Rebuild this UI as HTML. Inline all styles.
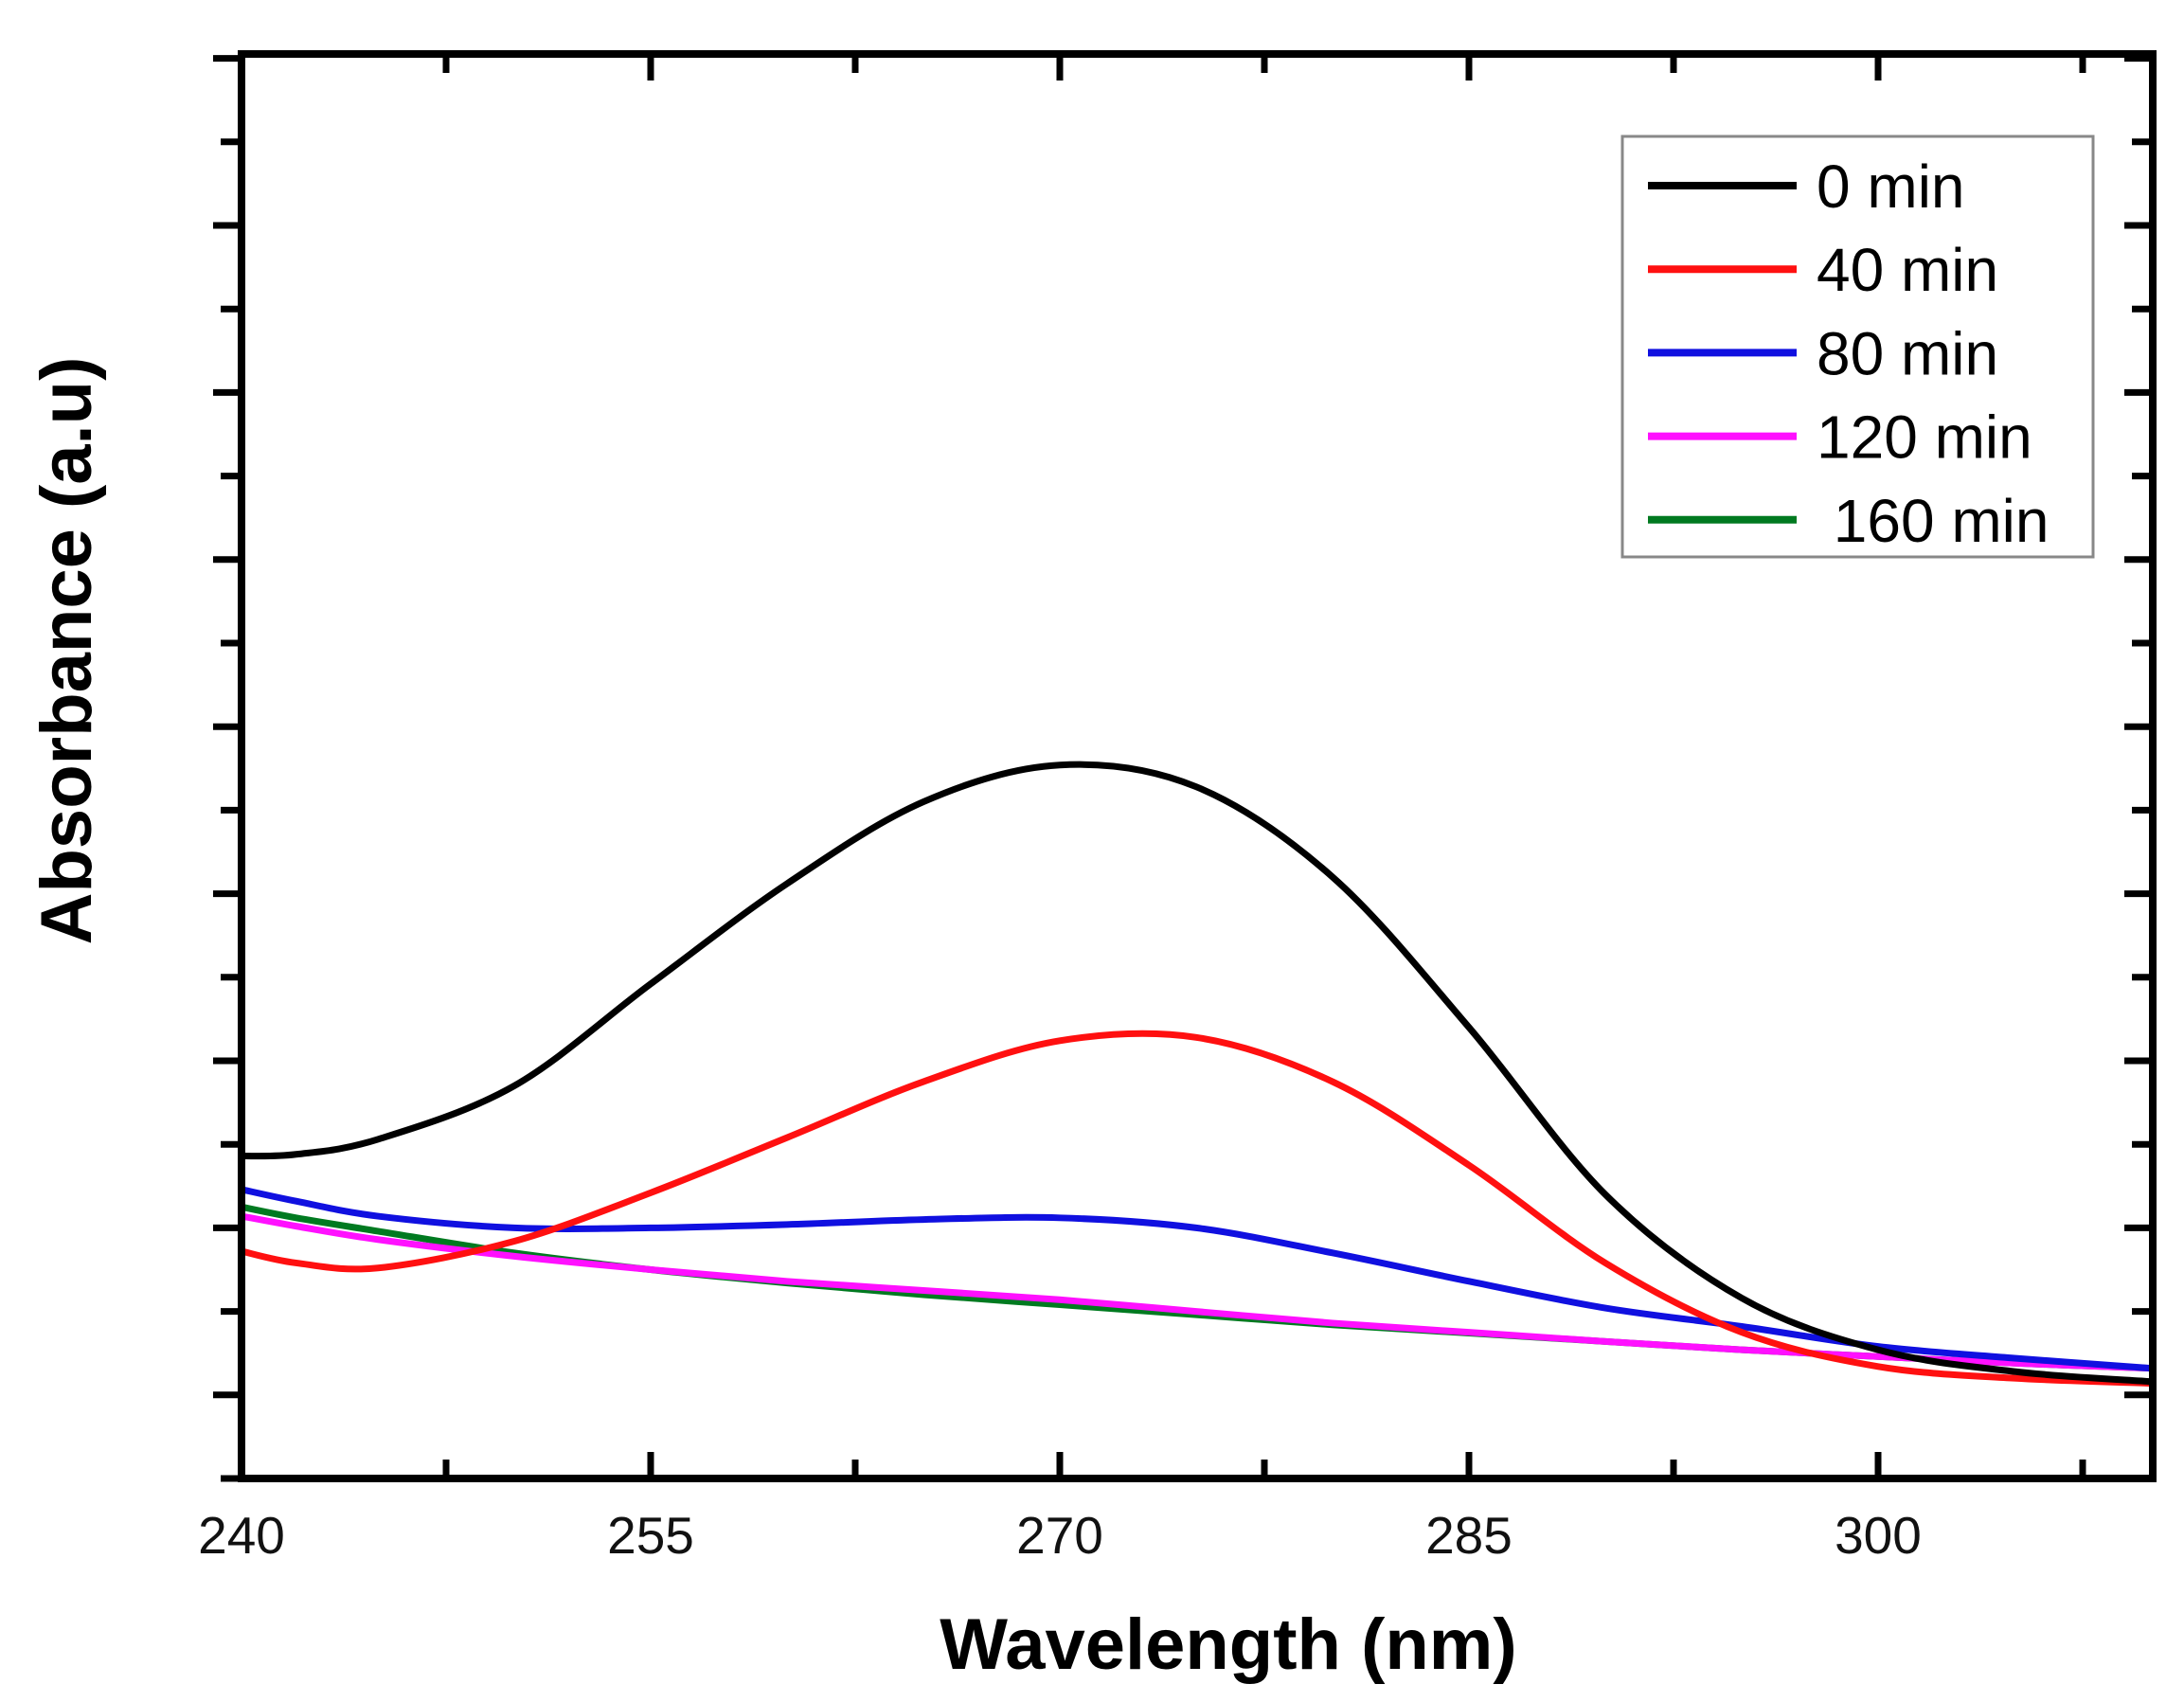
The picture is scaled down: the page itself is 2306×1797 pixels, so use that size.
<!DOCTYPE html>
<html><head><meta charset="utf-8"><style>
html,body{margin:0;padding:0;background:#fff;}
svg{display:block;}
</style></head><body>
<svg id="chart" width="2306" height="1797" viewBox="0 0 2306 1797" xmlns="http://www.w3.org/2000/svg" font-family="Liberation Sans, Arial, sans-serif">
</svg>
<script>
const wavelengths = [240,242,245,250,255,260,265,270,275,280,285,290,295,300,305,310];
const s0   = [1.43,1.44,1.53,1.85,2.46,3.06,3.55,3.77,3.64,3.1,2.2,1.2,0.58,0.27,0.14,0.08];
const s40  = [0.86,0.79,0.76,0.92,1.21,1.54,1.875,2.12,2.14,1.875,1.375,0.79,0.375,0.17,0.10,0.07];
const s80  = [1.23,1.16,1.07,1.0,1.0,1.02,1.05,1.06,1.0,0.85,0.68,0.52,0.41,0.29,0.22,0.16];
const s120 = [1.07,1.01,0.93,0.83,0.75,0.68,0.625,0.57,0.5,0.43,0.375,0.32,0.27,0.23,0.19,0.16];
const s160 = [1.125,1.06,0.98,0.85,0.75,0.67,0.60,0.54,0.48,0.42,0.37,0.32,0.27,0.23,0.19,0.16];
const seriesNames = ["0 min","40 min","80 min","120 min"," 160 min"];
const seriesColors = ["#000000","#ff1010","#1010e0","#ff10ff","#007a20"];
const xTickLabels = ["240","255","270","285","300"];
const xTickValues = [240,255,270,285,300];

const NS="http://www.w3.org/2000/svg";
const L=255,R=2273,T=57,B=1561;
const xMin=240,xMax=310.07,yMin=-0.5,yMax=8.026;
function xs(v){return L+(v-xMin)/(xMax-xMin)*(R-L);}
function ys(v){return B-(v-yMin)/(yMax-yMin)*(B-T);}
const svg=document.getElementById('chart');
function mk(tag,attrs,parent){const e=document.createElementNS(NS,tag);for(const k in attrs)e.setAttribute(k,attrs[k]);(parent||svg).appendChild(e);return e;}

const all=[s0,s40,s80,s120,s160];
function pathFor(vals){
  const p=wavelengths.map((w,i)=>[xs(Math.min(w,xMax)),ys(vals[i])]);
  let d="M"+p[0][0]+","+p[0][1];
  for(let i=0;i<p.length-1;i++){
    const p0=p[i-1]||p[i],p1=p[i],p2=p[i+1],p3=p[i+2]||p2;
    const c1=[p1[0]+(p2[0]-p0[0])/6,p1[1]+(p2[1]-p0[1])/6];
    const c2=[p2[0]-(p3[0]-p1[0])/6,p2[1]-(p3[1]-p1[1])/6];
    d+=" C"+c1+" "+c2+" "+p2;
  }
  return d;
}
const order=[4,3,2,1,0];
order.forEach(i=>{
  const e=mk('path',{d:pathFor(all[i]),fill:'none',stroke:seriesColors[i],'stroke-width':7,'stroke-linejoin':'round'});
  
  
});

const fr=mk('rect',{x:L,y:T,width:R-L,height:B-T,fill:'none',stroke:'#000','stroke-width':8});



for(let v=240;v<=xMax;v+=7.5){
  const major=((v-240)%15)===0;
  const len=major?28:20;
  const x=xs(v);
  const t1=mk('line',{x1:x,y1:B,x2:x,y2:B-len,stroke:'#000','stroke-width':7});
  
  
  const t2=mk('line',{x1:x,y1:T,x2:x,y2:T+len,stroke:'#000','stroke-width':7});
  
  
}
xTickValues.forEach((v,i)=>{
  const t=mk('text',{x:xs(v),y:1640,'text-anchor':'middle','font-size':55,fill:'#111'});
  t.textContent=xTickLabels[i];
  
  
});
for(let v=yMin;v<=yMax+0.001;v+=0.5){
  const major=Math.abs(v-Math.round(v))<0.01;
  const len=major?30:22;
  const y=ys(v);
  const a=mk('line',{x1:L,y1:y,x2:L-len,y2:y,stroke:'#000','stroke-width':7});
  
  
  const b=mk('line',{x1:R,y1:y,x2:R-len,y2:y,stroke:'#000','stroke-width':7});
  
  
}
const xt=mk('text',{x:1297,y:1762,'text-anchor':'middle','font-size':76,'font-weight':'bold',fill:'#000'});
xt.textContent="Wavelength (nm)";


const yt=mk('text',{x:0,y:0,'text-anchor':'middle','font-size':76,'font-weight':'bold',fill:'#000',transform:'translate(96,687) rotate(-90)'});
yt.textContent="Absorbance (a.u)";



const lg=mk('g',{});


const lb=mk('rect',{x:1713,y:144,width:497,height:444,fill:'#fff',stroke:'#888','stroke-width':3},lg);


seriesNames.forEach((n,i)=>{
  const y=196+i*88.2;
  const ln=mk('line',{x1:1740,y1:y,x2:1897,y2:y,stroke:seriesColors[i],'stroke-width':8},lg);
  
  
  const tx=mk('text',{x:1918,y:y+23,'font-size':64,fill:'#000'},lg);
  tx.setAttribute('style','white-space:pre');
  tx.textContent=n;
  
  
});
</script>
</body></html>
